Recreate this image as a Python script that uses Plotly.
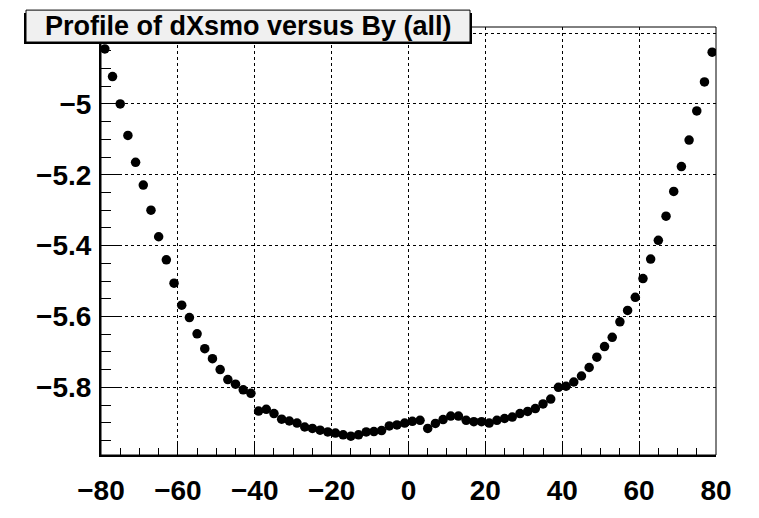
import plotly.graph_objects as go

# Profile bins of dXsmo versus By (bin centres, 2-unit bins over [-80, 80])
by_centres = [
    -79, -77, -75, -73, -71, -69, -67, -65, -63, -61,
    -59, -57, -55, -53, -51, -49, -47, -45, -43, -41,
    -39, -37, -35, -33, -31, -29, -27, -25, -23, -21,
    -19, -17, -15, -13, -11, -9, -7, -5, -3, -1,
    1, 3, 5, 7, 9, 11, 13, 15, 17, 19,
    21, 23, 25, 27, 29, 31, 33, 35, 37, 39,
    41, 43, 45, 47, 49, 51, 53, 55, 57, 59,
    61, 63, 65, 67, 69, 71, 73, 75, 77, 79,
]

dxsmo_mean = [
    -4.845, -4.923, -5.000, -5.089, -5.165, -5.229, -5.300, -5.375, -5.440, -5.506,
    -5.568, -5.603, -5.649, -5.691, -5.719, -5.750, -5.778, -5.791, -5.807, -5.817,
    -5.867, -5.862, -5.874, -5.890, -5.895, -5.901, -5.912, -5.916, -5.921, -5.926,
    -5.929, -5.934, -5.938, -5.934, -5.926, -5.925, -5.922, -5.909, -5.906, -5.901,
    -5.896, -5.893, -5.916, -5.902, -5.891, -5.881, -5.881, -5.893, -5.897, -5.897,
    -5.901, -5.893, -5.888, -5.884, -5.874, -5.868, -5.860, -5.847, -5.833, -5.800,
    -5.797, -5.785, -5.768, -5.744, -5.715, -5.685, -5.659, -5.615, -5.583, -5.546,
    -5.493, -5.438, -5.385, -5.317, -5.247, -5.177, -5.102, -5.020, -4.938, -4.854,
]

title_text = "Profile of dXsmo versus By (all)"

x_range = [-80, 80]
y_range = [-5.991, -4.783]

W, H = 759, 518
ML, MR, MT, MB = 101, 43, 27, 35
PW, PH = W - ML - MR, H - MT - MB


def px_x(p):
    return (p - ML) / PW


def px_y(p):
    return (H - MB - p) / PH


tick_font = dict(family="Liberation Sans, Arial, sans-serif", size=28,
                 color="black", weight="bold")

fig = go.Figure()
fig.add_trace(go.Scatter(
    x=by_centres, y=dxsmo_mean, mode="markers",
    marker=dict(symbol="circle", size=9.5, color="black"),
    showlegend=False, hoverinfo="x+y",
))

fig.update_layout(
    width=W, height=H,
    margin=dict(l=ML, r=MR, t=MT, b=MB, pad=0),
    paper_bgcolor="white", plot_bgcolor="white",
    xaxis=dict(
        range=x_range, tick0=-80, dtick=20,
        ticks="inside", ticklen=13, tickwidth=1, tickcolor="black",
        showline=True, linewidth=2, linecolor="black",
        showgrid=True, gridcolor="black", gridwidth=1, griddash="dot",
        zeroline=False, tickfont=tick_font, ticklabelstandoff=9,
        minor=dict(ticks="inside", ticklen=7, tick0=-80, dtick=5,
                   tickcolor="black", tickwidth=1, showgrid=False),
    ),
    yaxis=dict(
        range=y_range, tick0=-5, dtick=0.2,
        ticks="inside", ticklen=20, tickwidth=1, tickcolor="black",
        showline=True, linewidth=2, linecolor="black",
        showgrid=True, gridcolor="black", gridwidth=1, griddash="dot",
        zeroline=False, tickfont=tick_font, ticklabelstandoff=2,
        minor=dict(ticks="inside", ticklen=10, tick0=-5, dtick=0.05,
                   tickcolor="black", tickwidth=1, showgrid=False),
    ),
)

# thin frame on the top and right sides
fig.add_shape(type="rect", xref="paper", yref="paper",
              x0=0, x1=1, y0=0, y1=1,
              line=dict(color="black", width=1), layer="above")

# title pave with its shadow
fig.add_shape(type="rect", xref="paper", yref="paper",
              x0=px_x(24), x1=px_x(472), y0=px_y(45), y1=px_y(12),
              line=dict(width=0), fillcolor="black", layer="above")
fig.add_shape(type="rect", xref="paper", yref="paper",
              x0=px_x(26), x1=px_x(470), y0=px_y(43), y1=px_y(9),
              line=dict(color="black", width=1), fillcolor="#f0f0f0",
              layer="above")
fig.add_annotation(
    text=title_text, xref="paper", yref="paper",
    x=px_x(248), y=px_y(26), xanchor="center", yanchor="middle",
    showarrow=False,
    font=dict(family="Liberation Sans, Arial, sans-serif", size=27,
              color="black", weight="bold"),
)

fig.write_html("out.html")
